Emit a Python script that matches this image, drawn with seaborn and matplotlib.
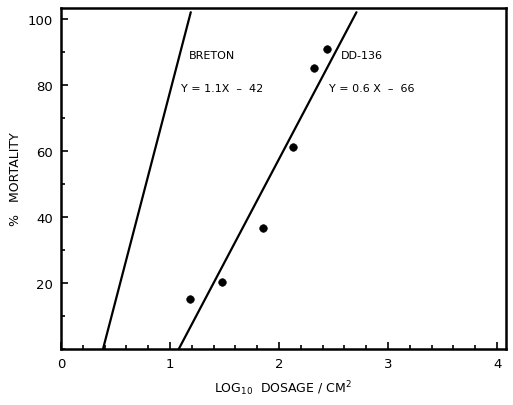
import matplotlib
matplotlib.use('Agg')
import matplotlib.pyplot as plt
import numpy as np
import pandas as pd
import seaborn as sns
from matplotlib.ticker import MultipleLocator

# observed points (DD-136)
dose_pts = [1.18, 1.48, 1.85, 2.13, 2.32, 2.44]
mort_pts = [15.2, 20.3, 36.7, 61.2, 85.0, 91.0]

# fitted lines, end points
breton_x = [0.385, 1.19]
breton_y = [0.0, 102.0]
dd_x = [1.08, 2.71]
dd_y = [0.0, 102.0]

x_ticks = [0, 1, 2, 3, 4]
y_ticks = [20, 40, 60, 80, 100]

sns.set_style('ticks')
plt.rcParams['font.family'] = ['DejaVu Sans']
plt.rcParams['text.color'] = 'black'
plt.rcParams['axes.labelcolor'] = 'black'
plt.rcParams['xtick.color'] = 'black'
plt.rcParams['ytick.color'] = 'black'

fig = plt.figure(figsize=(5.13, 4.06), dpi=100)
ax = fig.add_axes([0.119, 0.138, 0.867, 0.84])

df_pts = pd.DataFrame({'dose': dose_pts, 'mort': mort_pts})
df_lines = pd.concat([
    pd.DataFrame({'dose': breton_x, 'mort': breton_y, 'strain': 'BRETON'}),
    pd.DataFrame({'dose': dd_x, 'mort': dd_y, 'strain': 'DD-136'}),
])

sns.lineplot(data=df_lines, x='dose', y='mort', units='strain', estimator=None,
             color='black', linewidth=1.6, ax=ax, sort=False)
sns.scatterplot(data=df_pts, x='dose', y='mort', color='black', s=30,
                edgecolor='black', ax=ax, zorder=3)

ax.set_xlim(0, 4.08)
ax.set_ylim(0, 103.3)
ax.set_xticks(x_ticks)
ax.set_xticklabels([str(t) for t in x_ticks])
ax.set_yticks(y_ticks)
ax.set_yticklabels([str(t) for t in y_ticks])
ax.xaxis.set_minor_locator(MultipleLocator(0.2))
ax.yaxis.set_minor_locator(MultipleLocator(10))
ax.tick_params(which='both', direction='in', width=1.2, labelsize=9.5, color='black')
ax.tick_params(which='major', length=5, pad=6)
ax.tick_params(which='minor', length=3)
for sp in ax.spines.values():
    sp.set_linewidth(1.8)
    sp.set_color('black')

ax.text(1.17, 88, 'BRETON', fontsize=8)
ax.text(1.10, 78, 'Y = 1.1X  \u2013  42', fontsize=8)
ax.text(2.57, 88, 'DD-136', fontsize=8)
ax.text(2.46, 78, 'Y = 0.6 X  \u2013  66', fontsize=8)

ax.set_xlabel(r'LOG$_{10}$  DOSAGE / CM$^{2}$', fontsize=9, labelpad=6)
ax.set_ylabel('%   MORTALITY', fontsize=9, labelpad=4)

fig.savefig('out.png', dpi=100)
